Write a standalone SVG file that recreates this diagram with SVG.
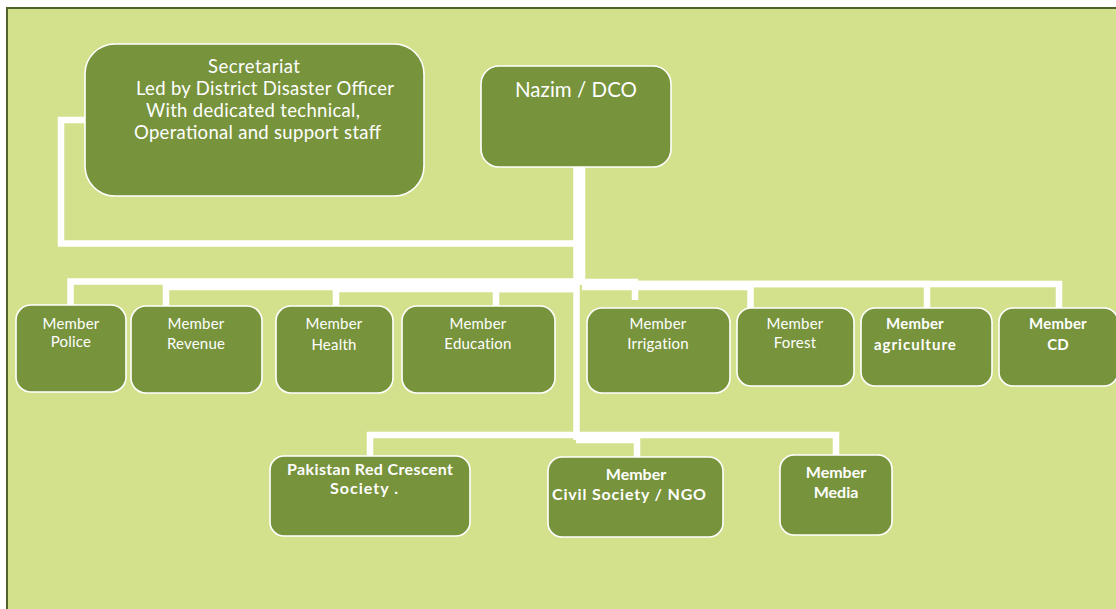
<svg xmlns="http://www.w3.org/2000/svg" width="1116" height="609" viewBox="0 0 1116 609">
<style>
.box{fill:#77933c;stroke:#ffffff;stroke-width:1.6}
.con{fill:none;stroke:#ffffff;stroke-width:6.5;stroke-linejoin:miter}
text{font-family:Lato,"Open Sans","Noto Sans",sans-serif;fill:#ffffff;text-anchor:middle}
.t1{font-size:18.5px}
.t2{font-size:15px;letter-spacing:0.2px}
.t3{font-size:16px;font-weight:bold}
.b{font-weight:bold}
</style>
<rect x="0" y="0" width="1116" height="609" fill="#ffffff"/>
<rect x="7" y="8" width="1112" height="605" fill="#d3e18d" stroke="#4f6228" stroke-width="2"/>
<g id="connectors">
<path class="con" d="M85,120 H61 V243.5 H576"/>
<path class="con" d="M576.5,167 V440"/>
<path class="con" d="M582,167 V285"/>
<path class="con" d="M576,281.5 H70.5 V306"/>
<path class="con" d="M576,287 H166 V306"/>
<path class="con" d="M576,289 H336 V306"/>
<path class="con" d="M576,289 H496 V306"/>
<path class="con" d="M582,282 H635 V300"/>
<path class="con" d="M582,287 H750.5 V308"/>
<path class="con" d="M582,284 H927 V308"/>
<path class="con" d="M582,284 H1059 V308"/>
<path class="con" d="M576,435 H370 V456"/>
<path class="con" d="M576,440 H637 V457"/>
<path class="con" d="M576,435 H836 V455"/>
</g>
<g id="secretariat">
<rect class="box" x="85" y="44" width="339" height="152" rx="30"/>
<text class="t1" x="254" y="73" textLength="92">Secretariat</text>
<text class="t1" x="265" y="95" textLength="258">Led by District Disaster Officer</text>
<text class="t1" x="253" y="117" textLength="214">With dedicated technical,</text>
<text class="t1" x="257.5" y="139" textLength="247">Operational and support staff</text>
</g>
<g id="nazim">
<rect class="box" x="481" y="66" width="190" height="101" rx="18"/>
<text x="576" y="97" style="font-size:20.5px" textLength="122">Nazim / DCO</text>
</g>
<g id="police">
<rect class="box" x="16" y="305" width="110" height="87" rx="15"/>
<text class="t2" x="71" y="329">Member</text>
<text class="t2" x="71" y="347">Police</text>
</g>
<g id="revenue">
<rect class="box" x="131" y="306" width="131" height="87" rx="15"/>
<text class="t2" x="196" y="329">Member</text>
<text class="t2" x="196" y="349">Revenue</text>
</g>
<g id="health">
<rect class="box" x="276" y="306" width="117" height="87" rx="15"/>
<text class="t2" x="334" y="329">Member</text>
<text class="t2" x="334" y="350">Health</text>
</g>
<g id="education">
<rect class="box" x="402" y="306" width="153" height="87" rx="15"/>
<text class="t2" x="478" y="329">Member</text>
<text class="t2" x="478" y="349">Education</text>
</g>
<g id="irrigation">
<rect class="box" x="587" y="308" width="143" height="85" rx="15"/>
<text class="t2" x="658" y="329">Member</text>
<text class="t2" x="658" y="349">Irrigation</text>
</g>
<g id="forest">
<rect class="box" x="737" y="308" width="117" height="78" rx="14"/>
<text class="t2" x="795" y="329">Member</text>
<text class="t2" x="795" y="348">Forest</text>
</g>
<g id="agriculture">
<rect class="box" x="861" y="308" width="131" height="78" rx="14"/>
<text class="t2 b" x="915" y="329">Member</text>
<text class="t2 b" x="915" y="350" textLength="82">agriculture</text>
</g>
<g id="cd">
<rect class="box" x="999" y="308" width="119" height="78" rx="14"/>
<text class="t2 b" x="1058" y="329">Member</text>
<text class="t2 b" x="1058" y="350">CD</text>
</g>
<g id="prcs">
<rect class="box" x="270" y="456" width="200" height="80" rx="14"/>
<text class="t3" x="370" y="475" textLength="166">Pakistan Red Crescent</text>
<text class="t3" x="364" y="494" textLength="68">Society .</text>
</g>
<g id="civil">
<rect class="box" x="548" y="457" width="175" height="80" rx="14"/>
<text class="t3" x="636" y="480">Member</text>
<text class="t3" x="629" y="500" textLength="154">Civil Society / NGO</text>
</g>
<g id="media">
<rect class="box" x="780" y="455" width="112" height="80" rx="14"/>
<text class="t3" x="836" y="478">Member</text>
<text class="t3" x="836" y="498">Media</text>
</g>
</svg>
